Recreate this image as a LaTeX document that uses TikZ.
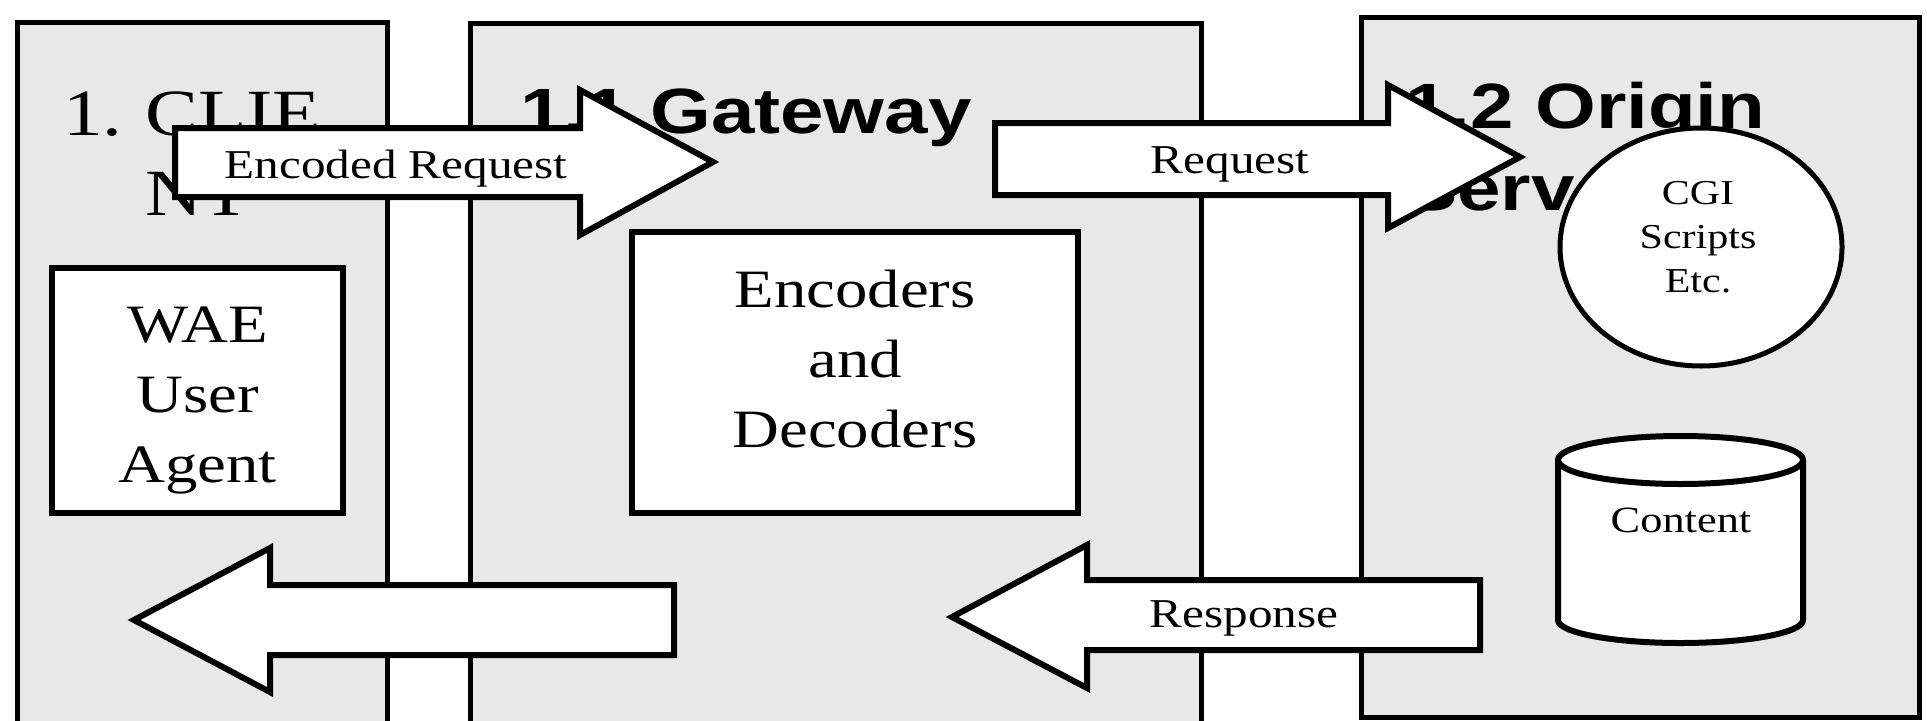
\documentclass[tikz,border=0pt]{standalone}
\usepackage{fontspec}
\setmainfont[FakeStretch=1.2]{Liberation Serif}
\newfontfamily\headfont[FakeStretch=1.22]{Liberation Sans}
\usetikzlibrary{shapes}
\tikzset{
  panel/.style = {draw=black, line width=5pt, fill=black!9, inner sep=0pt,
    anchor=north west},% grey column
  block_node/.style = {draw=black, line width=6pt, fill=white, inner sep=0pt},
  box_text/.style = {align=center, inner sep=0pt,
    font=\fontsize{54}{70}\selectfont},
  small_text/.style = {align=center, inner sep=0pt,
    font=\fontsize{35}{44}\selectfont},
  arrow_text/.style = {anchor=base, inner sep=0pt,
    font=\fontsize{41}{48}\selectfont},
  head_serif/.style = {anchor=base west, align=left, inner sep=0pt,
    font=\fontsize{66}{80}\selectfont},% base = last line
  head_sans/.style = {anchor=base west, align=left, inner sep=0pt,
    font=\headfont\bfseries\fontsize{64}{82}\selectfont},
  fat_arrow/.style = {draw=black, line width=6pt, fill=white, line join=miter}
}
\begin{document}
\begin{tikzpicture}[x=1pt, y=-1pt]
  \useasboundingbox (0,0) rectangle (1927,720);
  \clip (0,0) rectangle (1927,720);
  \fill[white] (0,0) rectangle (1927,720);

  % columns
  \node[panel, minimum width=370pt, minimum height=730pt] (client) at (15,20) {};
  \node[panel, minimum width=731pt, minimum height=730pt] (gateway) at (468,21) {};
  \node[panel, minimum width=558pt, minimum height=700pt] (origin) at (1359,15) {};

  % titles
  \node[head_serif] (client_no) at (63,135) {1.};
  \node[head_serif] (client_title) at (145,215) {CLIE\\NT};
  \node[head_sans] (gw_title) at (520,133) {1.1 Gateway};
  \node[head_sans] (os_title) at (1405,210) {1.2 Origin\\Server};

  % inner blocks
  \node[block_node, minimum width=291pt, minimum height=245pt] (wae) at (197.5,390.5) {};
  \node[box_text] (wae_label) at (197.5,400.5) {WAE\\User\\Agent};
  \node[block_node, minimum width=446pt, minimum height=281pt] (codec) at (855,372.5) {};
  \node[box_text] (codec_label) at (855,359) {Encoders\\and\\Decoders};
  \node[block_node, ellipse, line width=5pt, minimum width=282pt,
    minimum height=238pt] (cgi) at (1701,247) {};
  \node[small_text] (cgi_label) at (1698,237.5) {CGI\\Scripts\\Etc.};
  \draw[block_node] (1558,460) -- (1558,620)
    arc[start angle=180, end angle=0, x radius=122.5, y radius=23]
    -- (1803,460)
    arc[start angle=0, end angle=-180, x radius=122.5, y radius=24] -- cycle;
  \draw[line width=6pt] (1558,460)
    arc[start angle=180, end angle=0, x radius=122.5, y radius=24];
  \node[arrow_text, font=\fontsize{37}{44}\selectfont] (content) at (1681,532) {Content};

  % block arrows
  \draw[fat_arrow] (175,128) -- (580,128) -- (580,90) -- (713,162)
    -- (580,235) -- (580,197) -- (175,197) -- cycle;
  \node[arrow_text] (enc_req) at (396,178) {Encoded Request};
  \draw[fat_arrow] (995,123) -- (1388,123) -- (1388,85) -- (1520,157)
    -- (1388,228) -- (1388,195) -- (995,195) -- cycle;
  \node[arrow_text] (req) at (1230,173) {Request};
  \draw[fat_arrow] (952,617) -- (1087,545) -- (1087,580) -- (1480,580)
    -- (1480,650) -- (1087,650) -- (1087,688) -- cycle;
  \node[arrow_text] (resp) at (1244,627) {Response};
  \draw[fat_arrow] (134,620) -- (270,548) -- (270,585) -- (674,585)
    -- (674,655) -- (270,655) -- (270,692) -- cycle;
\end{tikzpicture}
\end{document}
